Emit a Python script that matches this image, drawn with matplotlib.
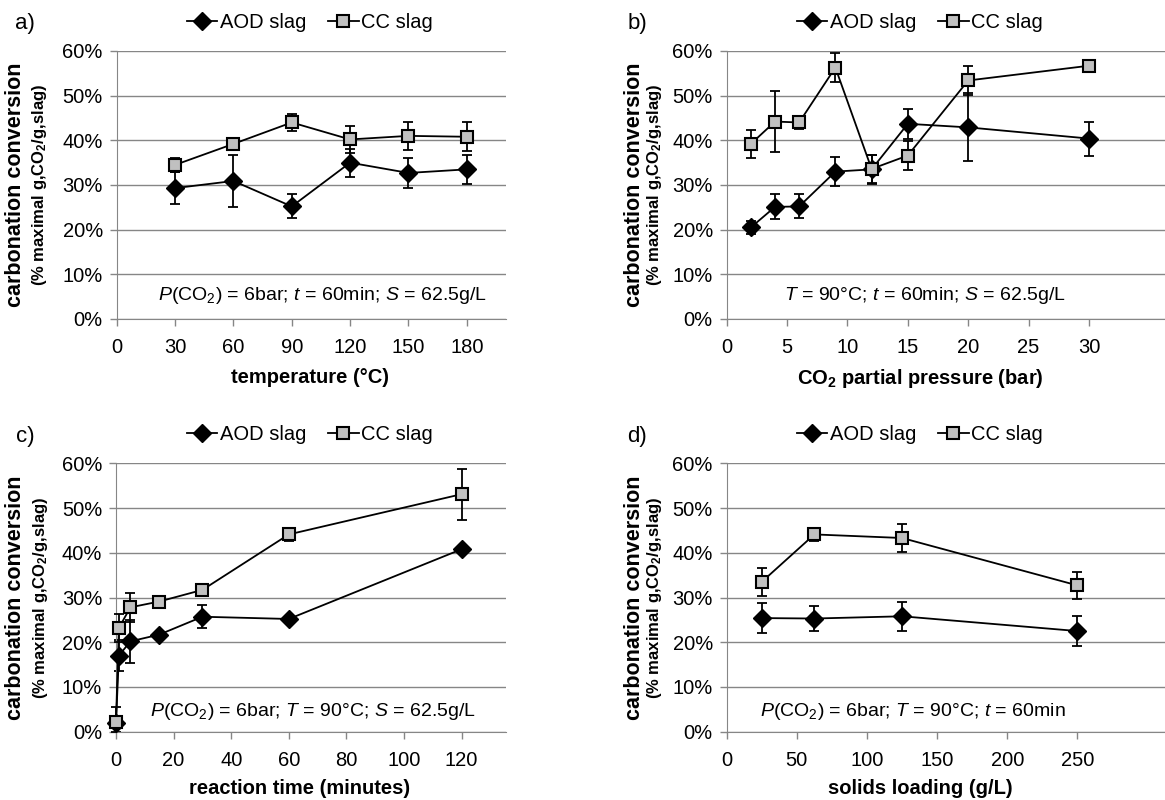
import matplotlib.pyplot as plt
from matplotlib.ticker import PercentFormatter

plt.rcParams["font.family"] = ["Liberation Sans", "DejaVu Sans"]
plt.rcParams["mathtext.fontset"] = "custom"
plt.rcParams["mathtext.rm"] = "Liberation Sans"
plt.rcParams["mathtext.it"] = "Liberation Sans:italic"
plt.rcParams["mathtext.bf"] = "Liberation Sans:bold"

# a) temperature
temperature = [30, 60, 90, 120, 150, 180]
temp_aod = [29.3, 30.9, 25.2, 35.0, 32.7, 33.5]
temp_aod_err = [3.6, 5.8, 2.7, 3.1, 3.3, 3.3]
temp_cc = [34.5, 39.2, 44.0, 40.2, 41.0, 40.8]
temp_cc_err = [1.5, 0.5, 1.8, 3.0, 3.2, 3.2]

# b) CO2 partial pressure
pressure = [2, 4, 6, 9, 12, 15, 20, 30]
pres_aod = [20.5, 25.1, 25.2, 33.0, 33.5, 43.7, 42.9, 40.4]
pres_aod_err = [1.5, 2.8, 2.7, 3.3, 3.2, 3.3, 7.6, 3.8]
pres_cc = [39.2, 44.2, 44.0, 56.3, 33.6, 36.6, 53.4, 56.7]
pres_cc_err = [3.2, 6.9, 1.5, 3.2, 3.2, 3.2, 3.2, 1.0]

# c) reaction time (first AOD error bar is cut off at 0%)
time = [0, 1, 5, 15, 30, 60, 120]
time_aod = [2.0, 17.0, 20.2, 21.7, 25.7, 25.2, 40.8]
time_aod_err_low = [2.0, 3.4, 4.8, 0.0, 2.6, 0.0, 0.0]
time_aod_err_high = [3.5, 3.4, 4.8, 0.0, 2.6, 0.0, 0.0]
time_cc = [2.2, 23.2, 27.8, 29.1, 31.7, 44.1, 53.1]
time_cc_err = [0.0, 3.2, 3.3, 0.0, 0.0, 1.5, 5.7]

# d) solids loading
loading = [25, 62.5, 125, 250]
load_aod = [25.4, 25.3, 25.8, 22.5]
load_aod_err = [3.4, 2.7, 3.3, 3.4]
load_cc = [33.5, 44.1, 43.3, 32.7]
load_cc_err = [3.2, 1.5, 3.1, 3.1]

W, H = 1165, 800
GRID = "#868686"
fig = plt.figure(figsize=(W / 100, H / 100), dpi=100)


def rect(l, t, r, b):
    return [l / W, 1 - b / H, (r - l) / W, (b - t) / H]


def ftext(x, y, s, **kw):
    fig.text(x / W, 1 - y / H, s, **kw)


def panel(box, x, aod, aod_err, cc, cc_err, xlim, xticks, xlabel, note,
          tag, tag_xy, leg_xy, ylab_x, note_xy, xlab_xy):
    ax = fig.add_axes(rect(*box))
    ax.errorbar(x, aod, yerr=aod_err, fmt="none", ecolor="black",
                elinewidth=1.3, capsize=3.5, capthick=1.3, zorder=2,
                clip_on=False)
    l1, = ax.plot(x, aod, color="black", lw=1.3, marker="D", ms=9,
                  mfc="black", mec="black", zorder=3, clip_on=False)
    ax.errorbar(x, cc, yerr=cc_err, fmt="none", ecolor="black",
                elinewidth=1.3, capsize=3.5, capthick=1.3, zorder=4,
                clip_on=False)
    l2, = ax.plot(x, cc, color="black", lw=1.3, marker="s", ms=9,
                  mfc="#c0c0c0", mec="black", mew=1.5, zorder=5,
                  clip_on=False)

    ax.set_xlim(*xlim)
    ax.set_ylim(0, 60)
    ax.set_xticks(xticks)
    ax.set_yticks(range(0, 61, 10))
    ax.yaxis.set_major_formatter(PercentFormatter(decimals=0))
    ax.yaxis.grid(True, color=GRID, lw=1)
    ax.set_axisbelow(True)
    for s in ("top", "right"):
        ax.spines[s].set_visible(False)
    for s in ("left", "bottom"):
        ax.spines[s].set_color(GRID)
    ax.tick_params(labelsize=14.5, color=GRID, length=5, width=1, pad=5)
    ax.tick_params(axis="x", pad=9)

    ax.legend([l1, l2], ["AOD slag", "CC slag"], loc="center",
              bbox_to_anchor=(leg_xy[0] / W, 1 - leg_xy[1] / H),
              bbox_transform=fig.transFigure, ncol=2, frameon=False,
              fontsize=14.5, handlelength=1.5, handletextpad=0.12,
              columnspacing=1.1)

    yc = (box[1] + box[3]) / 2
    ftext(ylab_x[0], yc, "carbonation conversion", rotation=90,
          fontsize=15.5, fontweight="bold", ha="center", va="center")
    ftext(ylab_x[1], yc, r"(% maximal g,CO$_\mathbf{2}$/g,slag)", rotation=90,
          fontsize=12, fontweight="bold", ha="center", va="center")
    ftext(*xlab_xy, xlabel, fontsize=14.5, fontweight="bold",
          ha="center", va="center")
    ftext(*note_xy, note, fontsize=14, ha="center", va="center")
    ftext(*tag_xy, tag, fontsize=16, ha="center", va="center")


panel((116.7, 51, 505.7, 319), temperature, temp_aod, temp_aod_err,
      temp_cc, temp_cc_err, (0, 200), range(0, 181, 30),
      "temperature (°C)",
      r"$\it{P}$(CO$_2$) = 6bar; $\it{t}$ = 60min; $\it{S}$ = 62.5g/L",
      "a)", (25, 24), (310, 23), (16, 40), (322, 296), (310, 378))

panel((726.7, 51, 1165, 319), pressure, pres_aod, pres_aod_err,
      pres_cc, pres_cc_err, (0, 36.3), range(0, 31, 5),
      r"CO$_\mathbf{2}$ partial pressure (bar)",
      r"$\it{T}$ = 90°C; $\it{t}$ = 60min; $\it{S}$ = 62.5g/L",
      "b)", (637, 24), (920, 23), (635, 655), (925, 296), (920, 379))

panel((116, 463.3, 505.7, 731.7), time, time_aod,
      [time_aod_err_low, time_aod_err_high],
      time_cc, time_cc_err, (0, 135.3), range(0, 121, 20),
      "reaction time (minutes)",
      r"$\it{P}$(CO$_2$) = 6bar; $\it{T}$ = 90°C; $\it{S}$ = 62.5g/L",
      "c)", (25, 436), (310, 435), (16, 41), (313, 712), (300, 788))

panel((726.7, 463.3, 1165, 731.7), loading, load_aod, load_aod_err,
      load_cc, load_cc_err, (0, 312.4), range(0, 251, 50),
      "solids loading (g/L)",
      r"$\it{P}$(CO$_2$) = 6bar; $\it{T}$ = 90°C; $\it{t}$ = 60min",
      "d)", (637, 436), (920, 435), (635, 655), (913, 712), (920, 788))

fig.savefig("out.png", dpi=100)
